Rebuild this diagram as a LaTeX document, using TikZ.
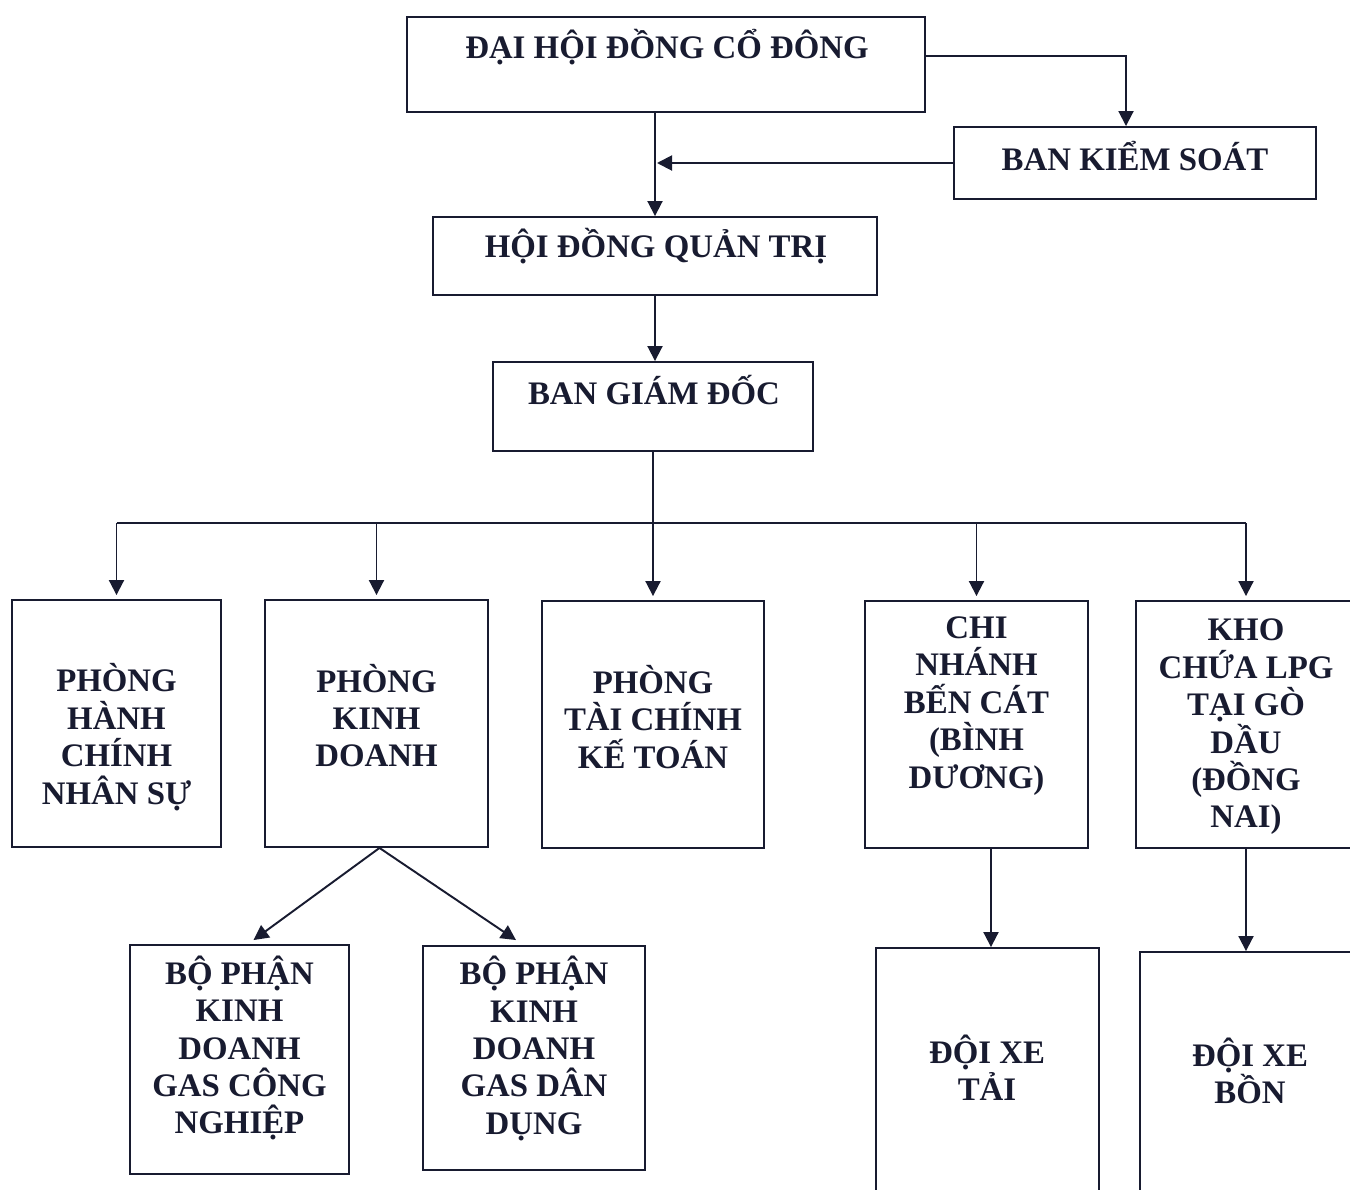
\documentclass[tikz,border=0pt]{standalone}
\usepackage{fontspec}
\setmainfont{Liberation Serif}
\usetikzlibrary{arrows.meta}
\definecolor{ink}{RGB}{24,27,48}

\begin{document}
\begin{tikzpicture}[x=0.02cm, y=-0.02cm,
    box/.style={draw=ink, line width=1.1pt, inner sep=0pt},
    lbl/.style={text=ink, align=center, inner sep=0pt, font=\bfseries\fontsize{18.7}{21.3}\selectfont},
    link/.style={draw=ink, line width=1.1pt},
    >={Triangle[length=0.3cm, width=0.3cm]}]
    \useasboundingbox (0,0) rectangle (1350,1190);
    \clip (0,0) rectangle (1350,1190);
    \fill[white] (0,0) rectangle (1350,1190);

    % top of the chart
    \node[box, minimum width=10.36cm, minimum height=1.9cm] (dhd) at (666,64.5) {};
    \node[box, minimum width=7.24cm, minimum height=1.44cm] (bks) at (1135,163) {};
    \node[box, minimum width=8.88cm, minimum height=1.56cm] (hdqt) at (655,256) {};
    \node[box, minimum width=6.4cm, minimum height=1.78cm] (bgd) at (653,406.5) {};
    \node[lbl] (dhd-t) at (667,47) {ĐẠI HỘI ĐỒNG CỔ ĐÔNG};
    \node[lbl] (bks-t) at (1135,156.5) {BAN KIỂM SOÁT};
    \node[lbl] (hdqt-t) at (656,246) {HỘI ĐỒNG QUẢN TRỊ};
    \node[lbl] (bgd-t) at (654,390) {BAN GIÁM ĐỐC};

    % departments
    \node[box, minimum width=4.18cm, minimum height=4.94cm] (phc) at (116.5,723.5) {};
    \node[box, minimum width=4.46cm, minimum height=4.94cm] (pkd) at (376.5,723.5) {};
    \node[box, minimum width=4.44cm, minimum height=4.94cm] (ptc) at (653,724.5) {};
    \node[box, minimum width=4.46cm, minimum height=4.94cm] (cn) at (976.5,724.5) {};
    \node[box, minimum width=4.4cm, minimum height=4.94cm] (kho) at (1246,724.5) {};
    \node[lbl] (phc-t) at (116.5,737) {PHÒNG\\HÀNH\\CHÍNH\\NHÂN SỰ};
    \node[lbl] (pkd-t) at (376.5,715.5) {PHÒNG\\KINH\\DOANH};
    \node[lbl] (ptc-t) at (653,717) {PHÒNG\\TÀI CHÍNH\\KẾ TOÁN};
    \node[lbl] (cn-t) at (976.5,706) {CHI\\NHÁNH\\BẾN CÁT\\(BÌNH\\DƯƠNG)};
    \node[lbl] (kho-t) at (1246,727) {KHO\\CHỨA LPG\\TẠI GÒ\\DẦU\\(ĐỒNG\\NAI)};

    % lower units
    \node[box, minimum width=4.38cm, minimum height=4.58cm] (bpcn) at (239.5,1059.5) {};
    \node[box, minimum width=4.44cm, minimum height=4.48cm] (bpdd) at (534,1058) {};
    \node[box, minimum width=4.46cm, minimum height=5.28cm] (dxt) at (987.5,1080) {};
    \node[box, minimum width=4.4cm, minimum height=5.2cm] (dxb) at (1250,1082) {};
    \node[lbl] (bpcn-t) at (239.5,1048) {BỘ PHẬN\\KINH\\DOANH\\GAS CÔNG\\NGHIỆP};
    \node[lbl] (bpdd-t) at (534,1048.5) {BỘ PHẬN\\KINH\\DOANH\\GAS DÂN\\DỤNG};
    \node[lbl] (dxt-t) at (987,1068) {ĐỘI XE\\TẢI};
    \node[lbl] (dxb-t) at (1250,1071) {ĐỘI XE\\BỒN};

    % connectors
    \draw[link, ->] ([yshift=0.17cm]dhd.east) -| ([xshift=-0.18cm]bks.north);
    \draw[link, ->] (dhd.south -| hdqt.north) -- (hdqt.north);
    \draw[link, ->] (bks.west) -- ([xshift=0.04cm]bks.west -| hdqt.north);
    \draw[link, ->] (hdqt.south) -- (hdqt.south |- bgd.north);

    \coordinate (bus) at (653,523);
    \draw[link] (bgd.south) -- (bus);
    \draw[link] (phc.north |- bus) -- (kho.north |- bus);
    \foreach \n in {phc,pkd,ptc,cn,kho}
        \draw[link, ->] (\n.north |- bus) -- ([yshift=0.08cm]\n.north);

    \draw[link, ->] ([xshift=0.06cm]pkd.south) -- ([xshift=0.28cm,yshift=0.08cm]bpcn.north);
    \draw[link, ->] ([xshift=0.06cm]pkd.south) -- ([xshift=-0.36cm,yshift=0.1cm]bpdd.north);
    \draw[link, ->] ([xshift=0.29cm]cn.south) -- ([xshift=0.29cm]cn.south |- dxt.north);
    \draw[link, ->] (kho.south) -- (kho.south |- dxb.north);
\end{tikzpicture}
\end{document}
